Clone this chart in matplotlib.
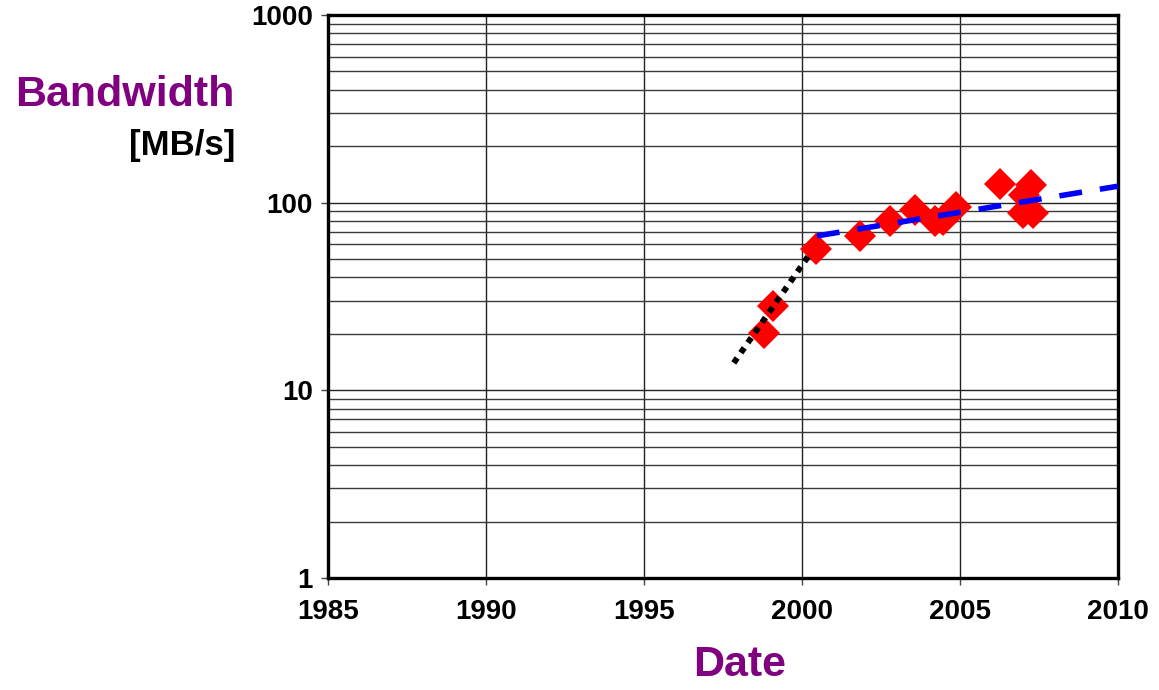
import matplotlib
matplotlib.use("Agg")
import matplotlib.pyplot as plt
from matplotlib.ticker import FixedLocator, NullFormatter, LogLocator

plt.rcParams['font.family'] = ['Liberation Sans', 'DejaVu Sans']
plt.rcParams['lines.scale_dashes'] = False

# Data points (year, bandwidth MB/s)
years = [1998.81, 1999.09, 2000.45, 2001.84, 2002.79, 2003.58, 2004.21, 2004.46,
         2004.87, 2006.27, 2007.25, 2007.03, 2006.99, 2007.31]
bandwidth = [20.1, 28.2, 56.7, 66.5, 80.2, 91.4, 79.8, 80.8,
             94.9, 125.8, 124.0, 110.0, 88.0, 88.0]

# Trend lines (endpoints)
early_trend_x = [1997.84, 2000.3]
early_trend_y = [14.0, 54.8]
late_trend_x = [2000.47, 2010.0]
late_trend_y = [66.5, 122.4]

x_ticks = [1985, 1990, 1995, 2000, 2005, 2010]
y_ticks = [1, 10, 100, 1000]
y_tick_labels = ['1', '10', '100', '1000']

purple = '#800080'

fig = plt.figure(figsize=(11.59, 6.90), dpi=100)
ax = fig.add_axes([328/1159, 1 - 578/690, (1118-328)/1159, (578-15)/690])

ax.set_yscale('log')
ax.set_xlim(1985, 2010)
ax.set_ylim(1, 1000)

# grid
ax.yaxis.set_major_locator(FixedLocator(y_ticks))
ax.yaxis.set_minor_locator(LogLocator(base=10, subs=range(2, 10)))
ax.yaxis.set_minor_formatter(NullFormatter())
ax.set_yticklabels(y_tick_labels)
ax.set_xticks(x_ticks)
ax.set_xticklabels([str(t) for t in x_ticks])
ax.grid(True, which='major', axis='both', color='#222222', linewidth=1.0)
ax.grid(True, which='minor', axis='y', color='#3a3a3a', linewidth=1.0)
ax.set_axisbelow(True)

ax.tick_params(axis='both', which='major', direction='out', length=5, width=1,
               labelsize=20, pad=6, color='#444444')
ax.tick_params(axis='x', which='major', pad=10)
ax.tick_params(axis='y', which='minor', length=0)
for lab in ax.get_xticklabels() + ax.get_yticklabels():
    lab.set_fontweight('bold')

for s in ax.spines.values():
    s.set_linewidth(2.4)
    s.set_color('black')

ax.plot(years, bandwidth, linestyle='none', marker='D', markersize=16,
        color='#FF0000', markeredgewidth=0, zorder=3)
ax.plot(early_trend_x, early_trend_y, color='black', linewidth=4.3,
        dashes=(4.3, 4.6), dash_capstyle='butt', zorder=4)
ax.plot(late_trend_x, late_trend_y, color='#0000FF', linewidth=4.0,
        dashes=(16.5, 13), dash_capstyle='butt', zorder=4)

fig.text(235/1159, 1 - 95/690, 'Bandwidth', color=purple, fontsize=31,
         fontweight='bold', ha='right', va='center')
fig.text(235/1159, 1 - 145/690, '[MB/s]', color='black', fontsize=25,
         fontweight='bold', ha='right', va='center')
fig.text(740/1159, 1 - 665/690, 'Date', color=purple, fontsize=31,
         fontweight='bold', ha='center', va='center')

fig.savefig('out.png', dpi=100)
